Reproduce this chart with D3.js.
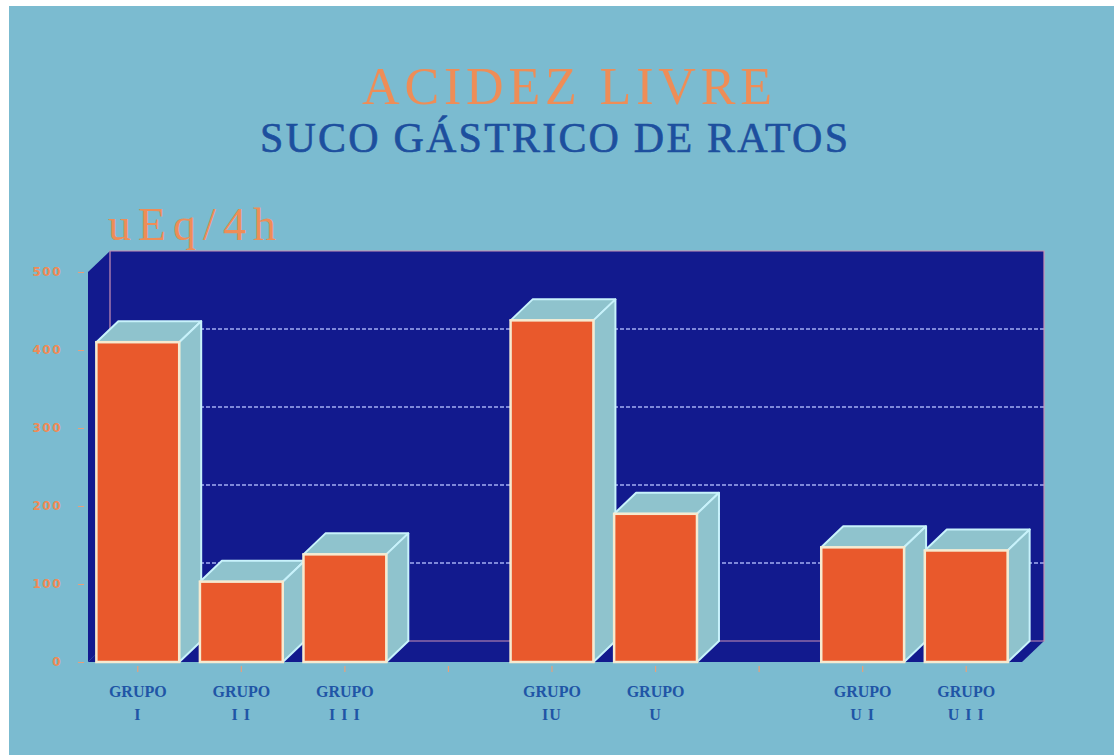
<!DOCTYPE html>
<html>
<head>
<meta charset="utf-8">
<script src="https://cdn.jsdelivr.net/npm/d3@7"></script>
<style>
  html, body { margin: 0; padding: 0; background: #ffffff; }
  svg { display: block; }
</style>
</head>
<body>
<svg id="chart" width="1114" height="755"></svg>
<script>
// data
const slots = ["I", "II", "III", "gap1", "IV", "V", "gap2", "VI", "VII"]
const categories = ["I", "II", "III", "IV", "V", "VI", "VII"]
const numerals = ["I", "I I", "I I I", "IU", "U", "U I", "U I I"]
const values = [410, 103, 138, 438, 190, 147, 143]
const yTicks = [0, 100, 200, 300, 400, 500]
const gridTicks = [100, 200, 300, 400]

const W = 1114, H = 755
const DX = 22, DY = -21  // oblique depth of the box

const svg = d3.select("#chart")

// photo background (white margin at top/left like the scan)
svg.append("rect")
	.attr("x", 9).attr("y", 6)
	.attr("width", W - 9).attr("height", H - 6)
	.attr("fill", "#7bbbd0")

const x = d3.scaleBand()
	.domain(slots)
	.range([86, 1018])
	.paddingInner(0.2)
	.paddingOuter(0.1)

const y = d3.scaleLinear()
	.domain([0, 500])
	.range([662, 272])

const y0 = y(0), yTop = y(500)
const xl = 88, xr = 1022

const wallBlue = "#121a8e"
const pink = "#c98fb4"

// back wall
svg.append("rect")
	.attr("x", xl + DX).attr("y", yTop + DY)
	.attr("width", xr - xl).attr("height", y0 - yTop)
	.attr("fill", wallBlue)

// left wall
svg.append("polygon")
	.attr("points", [[xl, y0], [xl, yTop], [xl + DX, yTop + DY], [xl + DX, y0 + DY]].join(" "))
	.attr("fill", wallBlue)

// floor
svg.append("polygon")
	.attr("points", [[xl, y0], [xr, y0], [xr + DX, y0 + DY], [xl + DX, y0 + DY]].join(" "))
	.attr("fill", wallBlue)

// back wall grid lines
svg.append("g")
	.selectAll("line")
	.data(gridTicks)
	.join("line")
	.attr("x1", xl + DX).attr("x2", xr + DX)
	.attr("y1", d => y(d) + DY).attr("y2", d => y(d) + DY)
	.attr("stroke", "#a3aef2")
	.attr("stroke-width", 1.5)
	.attr("stroke-dasharray", "4 2")

// back wall edges
svg.append("path")
	.attr("d", `M${xl + DX},${y0 + DY} L${xl + DX},${yTop + DY} L${xr + DX},${yTop + DY} L${xr + DX},${y0 + DY} L${xl + DX},${y0 + DY}`)
	.attr("fill", "none")
	.attr("stroke", pink)
	.attr("stroke-width", 1.2)

// y axis
const yAxis = svg.append("g")
	.attr("transform", `translate(${xl - 4},0)`)
	.call(d3.axisLeft(y).tickValues(yTicks).tickSize(6).tickPadding(16))
yAxis.select(".domain").remove()
yAxis.selectAll(".tick line").attr("stroke", "#e8a07a").attr("stroke-width", 1)
yAxis.selectAll(".tick text")
	.attr("fill", "#f08a55")
	.attr("font-family", "DejaVu Sans, sans-serif")
	.attr("font-weight", "bold")
	.attr("font-size", 12)
	.attr("letter-spacing", 1.5)

// slot ticks under the floor
svg.append("g")
	.selectAll("line")
	.data(slots)
	.join("line")
	.attr("x1", d => x(d) + x.bandwidth() / 2)
	.attr("x2", d => x(d) + x.bandwidth() / 2)
	.attr("y1", y0 + 4).attr("y2", y0 + 10)
	.attr("stroke", "#e8a07a")
	.attr("stroke-width", 1.2)

// bars, left to right so later fronts cover earlier sides
const bars = svg.append("g")
	.selectAll("g")
	.data(categories.map((c, i) => ({ c, v: values[i] })))
	.join("g")

const bw = x.bandwidth()
bars.append("polygon")
	.attr("points", d => {
		const x0 = x(d.c), yt = y(d.v)
		return [[x0, yt], [x0 + bw, yt], [x0 + bw + DX, yt + DY], [x0 + DX, yt + DY]].join(" ")
	})
	.attr("fill", "#8fc3cd")
	.attr("stroke", "#c8f2fb")
	.attr("stroke-width", 2)
	.attr("stroke-linejoin", "round")
bars.append("polygon")
	.attr("points", d => {
		const x0 = x(d.c) + bw, yt = y(d.v)
		return [[x0, yt], [x0 + DX, yt + DY], [x0 + DX, y0 + DY], [x0, y0]].join(" ")
	})
	.attr("fill", "#8fc3cd")
	.attr("stroke", "#c8f2fb")
	.attr("stroke-width", 2)
	.attr("stroke-linejoin", "round")
bars.append("rect")
	.attr("x", d => x(d.c))
	.attr("y", d => y(d.v))
	.attr("width", bw)
	.attr("height", d => y0 - y(d.v))
	.attr("fill", "#e9592c")
	.attr("stroke", "#f6ead0")
	.attr("stroke-width", 2.5)

// category labels
const labels = svg.append("g")
	.selectAll("g")
	.data(categories)
	.join("g")
	.attr("transform", d => `translate(${x(d) + bw / 2},0)`)
	.attr("fill", "#1f55a6")
	.attr("font-family", "Liberation Serif, serif")
	.attr("font-weight", "bold")
	.attr("text-anchor", "middle")
labels.append("text")
	.attr("y", 697)
	.attr("font-size", 16)
	.text("GRUPO")
labels.append("text")
	.attr("y", 720)
	.attr("font-size", 16)
	.attr("letter-spacing", 1)
	.text((d, i) => numerals[i])

// titles
svg.append("text")
	.attr("x", 567).attr("y", 104)
	.attr("text-anchor", "middle")
	.attr("font-family", "Liberation Serif, serif")
	.attr("font-size", 52)
	.attr("fill", "#ee8d57")
	.attr("textLength", 410)
	.attr("lengthAdjust", "spacing")
	.text("ACIDEZ LIVRE")

svg.append("text")
	.attr("x", 554).attr("y", 152)
	.attr("text-anchor", "middle")
	.attr("font-family", "Liberation Serif, serif")
	.attr("font-size", 42)
	.attr("fill", "#1d4f9e")
	.attr("stroke", "#1d4f9e")
	.attr("stroke-width", 0.6)
	.attr("textLength", 588)
	.attr("lengthAdjust", "spacing")
	.text("SUCO GÁSTRICO DE RATOS")

svg.append("text")
	.attr("x", 108).attr("y", 240)
	.attr("font-family", "Liberation Serif, serif")
	.attr("font-size", 46)
	.attr("fill", "#ee8d57")
	.attr("letter-spacing", 7)
	.text("uEq/4h")
</script>
</body>
</html>
